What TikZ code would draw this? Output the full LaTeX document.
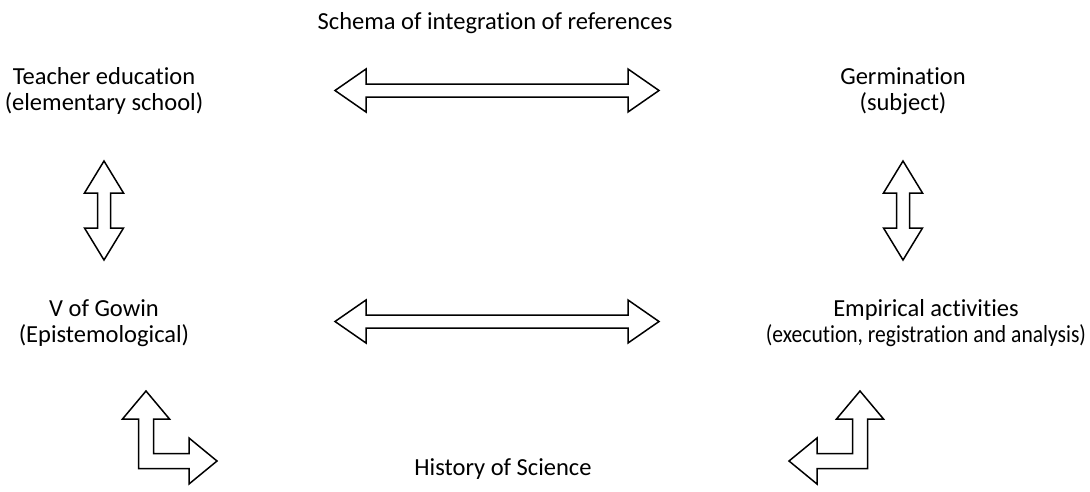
\documentclass[tikz,border=0pt]{standalone}
\usepackage{fontspec}
\setmainfont{Carlito}[Ligatures=NoCommon]
\begin{document}
\begin{tikzpicture}[x=1pt,y=-1pt,
  label/.style={align=center,inner sep=0pt,font=\fontsize{24.5}{26.5}\selectfont},
  blockarrow/.style={draw=black,line width=1.5pt,line join=miter,fill=white}]
\useasboundingbox (0,0) rectangle (1090,491);

% text labels
\node[label] (title) at (495,23) {Schema of integration of references};
\node[label] (teach) at (104,91) {Teacher education\\(elementary school)};
\node[label] (germ)  at (903,91) {Germination\\(subject)};
\node[label] (gowin) at (104,323) {V of Gowin\\(Epistemological)};
\node[label] (emp)   at (926,323) {Empirical activities\\\scalebox{0.88}[1]{(execution, registration and analysis)}};
\node[label] (hist)  at (503,469) {History of Science};

% horizontal double block arrows (x1, x2, y)
\newcommand{\hdblarrow}[3]{%
  \draw[blockarrow] (#1,#3) -- (#1+31,#3-21.5) -- (#1+31,#3-6.5) -- (#2-31,#3-6.5)
    -- (#2-31,#3-21.5) -- (#2,#3) -- (#2-31,#3+21.5) -- (#2-31,#3+6.5)
    -- (#1+31,#3+6.5) -- (#1+31,#3+21.5) -- cycle;}
% vertical double block arrows (x, y1, y2)
\newcommand{\vdblarrow}[3]{%
  \draw[blockarrow] (#1,#2) -- (#1+19.5,#2+32) -- (#1+6.5,#2+32) -- (#1+6.5,#3-32)
    -- (#1+19.5,#3-32) -- (#1,#3) -- (#1-19.5,#3-32) -- (#1-6.5,#3-32)
    -- (#1-6.5,#2+32) -- (#1-19.5,#2+32) -- cycle;}

\hdblarrow{335}{659}{90.5}
\hdblarrow{335}{659}{321.5}
\vdblarrow{104}{161}{260}
\vdblarrow{903}{161}{260}

% bent double arrows towards History of Science
\draw[blockarrow] (146,391) -- (169.5,419) -- (153.5,419) -- (153.5,453.5) -- (189,453.5)
  -- (189,438) -- (217,461) -- (189,484) -- (189,468.5) -- (138.5,468.5)
  -- (138.5,419) -- (122.5,419) -- cycle;
\draw[blockarrow] (860,391) -- (836.5,419) -- (852.5,419) -- (852.5,453.5) -- (817,453.5)
  -- (817,438) -- (789,461) -- (817,484) -- (817,468.5) -- (867.5,468.5)
  -- (867.5,419) -- (883.5,419) -- cycle;
\end{tikzpicture}
\end{document}
